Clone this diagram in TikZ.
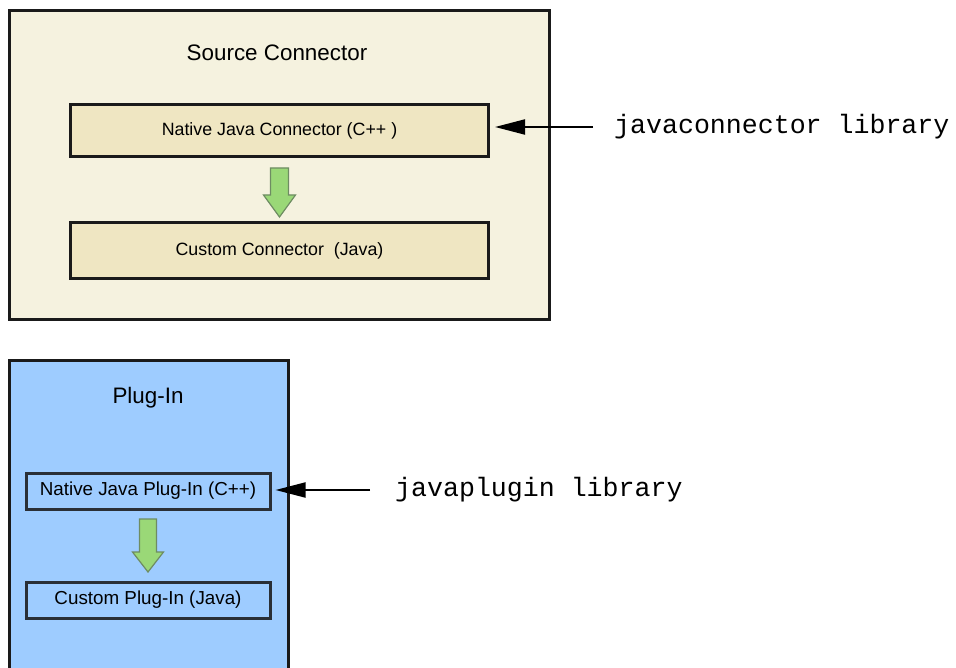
\documentclass[tikz,border=0pt]{standalone}
\usepackage{fontspec}
\setmainfont{Liberation Sans}
\newfontfamily\codefont{Liberation Mono}
\usetikzlibrary{arrows.meta,calc}

\definecolor{panelbeige}{HTML}{F5F2DF}
\definecolor{cardbeige}{HTML}{EFE6C2}
\definecolor{panelblue}{HTML}{9ECCFF}
\definecolor{arrowgreen}{HTML}{9AD877}
\definecolor{arrowedge}{HTML}{6E8C62}
\definecolor{ink}{HTML}{1A1A1A}
\definecolor{cardedge}{HTML}{2A2F36}

\begin{document}
\begin{tikzpicture}[x=1pt,y=-1pt,
  panel/.style={draw=ink, line width=3pt, inner sep=0pt},
  card/.style={draw=ink, line width=3pt, inner sep=0pt, font=\fontsize{17.8}{20}\selectfont},
  plugcard/.style={card, draw=cardedge, fill=panelblue, font=\fontsize{18.8}{22}\selectfont},
  title/.style={font=\fontsize{22.4}{26}\selectfont, inner sep=0pt},
  lib/.style={font=\codefont\fontsize{26.6}{30}\selectfont, anchor=west, inner sep=0pt},
  pointer/.style={line width=2pt, -{Triangle[length=30pt,width=15pt]}},
  garrow/.style={fill=arrowgreen, draw=arrowedge, line width=1.2pt, line join=miter},
  pics/downarrow/.style args={#1/#2/#3/#4/#5}{code={
    \draw[garrow] (-#1,#3) -- (#1,#3) -- (#1,#4) -- (#2,#4) -- (0,#5)
      -- (-#2,#4) -- (-#1,#4) -- cycle;}}
]
\useasboundingbox (0,0) rectangle (956,668);
\clip (0,0) rectangle (956,668);

% Source connector panel
\node[panel, fill=panelbeige, minimum width=540, minimum height=309] (src) at (279.5,165) {};
\node[title] (srctitle) at (277,53) {Source Connector};
\node[card, fill=cardbeige, minimum width=418, minimum height=52] (njc) at (279.5,130.5) {Native Java Connector (C++ )};
\node[card, fill=cardbeige, minimum width=418, minimum height=56] (cc) at (279.5,250.5) {Custom Connector~ (Java)};
\pic at ($(njc.south)!0.5!(cc.north)$) {downarrow={9/16/-21.5/5.5/27.5}};

% javaconnector pointer
\coordinate (jcstart) at (593,127);
\draw[pointer, shorten >=5pt] (jcstart) -- (jcstart -| njc.east);
\node[lib] (jclib) at (614,127) {javaconnector library};

% Plug-in panel
\node[panel, fill=panelblue, minimum width=279, minimum height=340] (plug) at (148.5,530) {};
\node[title] (plugtitle) at (148,398) {Plug-In};
\node[plugcard, minimum width=244, minimum height=36] (njp) at (148,491) {Native Java Plug-In (C++)};
\node[plugcard, minimum width=244, minimum height=36] (cp) at (148,600) {Custom Plug-In (Java)};
\pic at ($(njp.south)!0.5!(cp.north)$) {downarrow={8.5/15.5/-26.5/6.5/26.5}};

% javaplugin pointer
\coordinate (jpstart) at (370,490);
\draw[pointer, shorten >=4pt] (jpstart) -- (jpstart -| njp.east);
\node[lib] (jplib) at (395,490) {javaplugin library};
\end{tikzpicture}
\end{document}
